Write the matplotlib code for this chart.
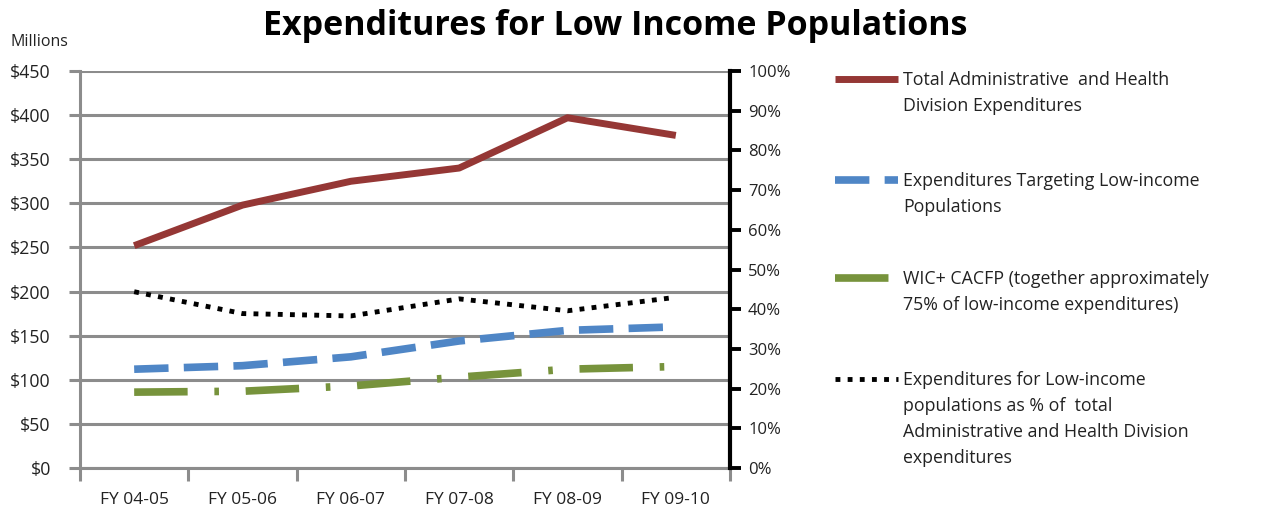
import matplotlib
matplotlib.use("Agg")
import matplotlib.pyplot as plt
from matplotlib.lines import Line2D
from matplotlib.ticker import FuncFormatter, FixedLocator, NullFormatter

# ---- data ----
fiscal_years = ["FY 04-05", "FY 05-06", "FY 06-07", "FY 07-08", "FY 08-09", "FY 09-10"]
total_admin_health = [252, 298, 325, 340, 397, 377]        # $ millions
targeting_low_income = [112, 116, 126, 144, 156, 160]      # $ millions
wic_cacfp = [86, 87, 93, 103, 112, 115]                    # $ millions
low_income_share_pct = [44.4, 38.9, 38.3, 42.6, 39.6, 43.0]  # percent of total

left_ticks = [0, 50, 100, 150, 200, 250, 300, 350, 400, 450]
right_ticks = [0, 10, 20, 30, 40, 50, 60, 70, 80, 90, 100]

legend_labels = [
    "Total Administrative  and Health\nDivision Expenditures",
    "Expenditures Targeting Low-income\nPopulations",
    "WIC+ CACFP (together approximately\n75% of low-income expenditures)",
    "Expenditures for Low-income\npopulations as % of  total\nAdministrative and Health Division\nexpenditures",
]

RED = "#953735"
BLUE = "#4F86C6"
GREEN = "#77933C"
GRID = "#8C8C8C"
TEXT = "#222222"
FONT = "Open Sans"

plt.rcParams["font.family"] = [FONT, "DejaVu Sans"]

W, H = 1264, 516
fig = plt.figure(figsize=(W / 100, H / 100), dpi=100)
ax = fig.add_axes([80 / W, (H - 468) / H, 650 / W, 397 / H])
ax2 = ax.twinx()

x = list(range(len(fiscal_years)))

red_style = dict(color=RED, lw=5, solid_capstyle="butt")
blue_style = dict(color=BLUE, lw=5.5, linestyle=(0, (4.5, 2.0)), dash_capstyle="butt")
green_style = dict(color=GREEN, lw=5.5, linestyle=(0, (7, 3.5, 0.6, 3.5)), dash_capstyle="butt")
black_style = dict(color="black", lw=3.5, linestyle=(0, (1.0, 1.5)), dash_capstyle="butt")

ax.plot(x, total_admin_health, zorder=4, **red_style)
ax.plot(x, targeting_low_income, zorder=4, **blue_style)
ax.plot(x, wic_cacfp, zorder=4, **green_style)
ax2.plot(x, low_income_share_pct, zorder=4, **black_style)

# left axis ($ millions)
ax.set_xlim(-0.5, len(fiscal_years) - 0.5)
ax.set_ylim(0, 450)
ax.set_yticks(left_ticks)
ax.yaxis.set_major_formatter(FuncFormatter(lambda v, p: f"${v:.0f}"))
ax.grid(axis="y", color=GRID, lw=2.2)
ax.set_axisbelow(True)

# x axis: ticks between categories, labels at centres
ax.xaxis.set_major_locator(FixedLocator([i - 0.5 for i in range(len(fiscal_years) + 1)]))
ax.xaxis.set_major_formatter(NullFormatter())
ax.xaxis.set_minor_locator(FixedLocator(x))
ax.set_xticklabels(fiscal_years, minor=True)
ax.tick_params(axis="x", which="major", length=9, width=2.2, color=GRID)
ax.tick_params(axis="x", which="minor", length=0, pad=17, labelsize=12.5, labelcolor=TEXT)
ax.tick_params(axis="y", length=8, width=2.2, color=GRID, pad=13, labelsize=12.8, labelcolor=TEXT)

for side in ("top", "right"):
    ax.spines[side].set_visible(False)
for side in ("left", "bottom"):
    ax.spines[side].set_color(GRID)
    ax.spines[side].set_linewidth(2.2)

# right axis (percent)
ax2.set_ylim(0, 100)
ax2.set_yticks(right_ticks)
ax2.yaxis.set_major_formatter(FuncFormatter(lambda v, p: f"{v:.0f}%"))
ax2.tick_params(axis="y", length=8, width=2.8, color="black", pad=5, labelsize=12, labelcolor=TEXT)
for side in ("top", "left", "bottom"):
    ax2.spines[side].set_visible(False)
ax2.spines["right"].set_color("black")
ax2.spines["right"].set_linewidth(3)

# titles
fig.text(615 / W, 1 - 26 / H, "Expenditures for Low Income Populations",
         ha="center", va="center", fontsize=24.5, fontweight="bold", color="black")
fig.text(10 / W, 1 - 42 / H, "Millions", ha="left", va="center", fontsize=11.5, color=TEXT)

# legend drawn beside the plot
def fx(px):
    return px / W

def fy(py):
    return 1 - py / H

entries = [
    (red_style, 79),
    (blue_style, 180),
    (green_style, 278),
    (black_style, 379),
]
for (style, ytop), label in zip(entries, legend_labels):
    fig.add_artist(Line2D([fx(835), fx(898)], [fy(ytop), fy(ytop)], transform=fig.transFigure, **style))
    fig.text(fx(903), fy(ytop - 8), label, ha="left", va="top", fontsize=12.8,
             color=TEXT, linespacing=1.58)

fig.savefig("out.png", dpi=100)
